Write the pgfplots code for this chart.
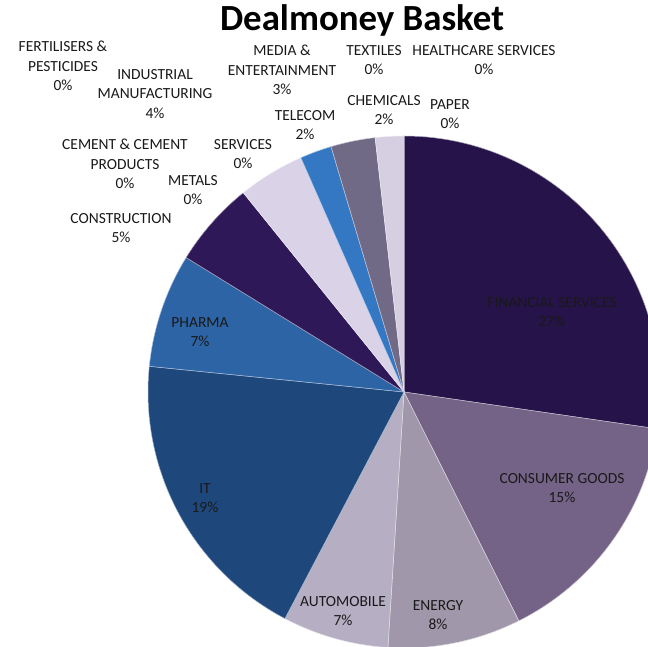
\documentclass[border=0pt]{standalone}
\usepackage{pgfplots}
\pgfplotsset{compat=1.18}
\usepackage{fontspec}
\setmainfont{Carlito}

% slice colours
\definecolor{cFin}{RGB}{38,19,74}
\definecolor{cCons}{RGB}{117,99,135}
\definecolor{cEnergy}{RGB}{160,151,170}
\definecolor{cAuto}{RGB}{182,175,196}
\definecolor{cIT}{RGB}{30,72,124}
\definecolor{cPharma}{RGB}{45,100,165}
\definecolor{cConstr}{RGB}{47,24,88}
\definecolor{cIndus}{RGB}{218,211,232}
\definecolor{cTele}{RGB}{52,120,196}
\definecolor{cMedia}{RGB}{112,106,134}
\definecolor{cChem}{RGB}{214,206,225}

% pie centre and radius (axis units = pixels)
\def\cx{404}
\def\cy{255}
\def\R{256}

% \slice{colour}{percent before}{percent of slice}
\newcommand{\slice}[3]{%
  \addplot[fill=#1, draw=white!60!#1, line width=0.5pt, samples=60,
    domain={90-3.6*(#2)}:{90-3.6*(#2+#3)}, variable=\t]
    ({\cx+\R*cos(\t)},{\cy+\R*sin(\t)}) -- (\cx,\cy) -- cycle;
}

\tikzset{lbl/.style={font=\fontsize{15.5}{19.5}\selectfont, align=center, text=black!90, inner sep=0pt}}

\begin{document}
\begin{tikzpicture}
\begin{axis}[
  width=648bp, height=647bp, scale only axis,
  xmin=0, xmax=648, ymin=0, ymax=647,
  hide axis, clip=true,
]
% shares in percent, clockwise from 12 o'clock
\slice{cFin}{0}{27.3}
\slice{cCons}{27.3}{15.3}
\slice{cEnergy}{42.6}{8.4}
\slice{cAuto}{51.0}{6.7}
\slice{cIT}{57.7}{18.9}
\slice{cPharma}{76.6}{7.2}
\slice{cConstr}{83.8}{5.4}
\slice{cIndus}{89.2}{4.2}
\slice{cTele}{93.4}{2.0}
\slice{cMedia}{95.4}{2.8}
\slice{cChem}{98.2}{1.8}

\node[font=\fontsize{37}{40}\selectfont\bfseries] at (362,627) {Dealmoney Basket};

\node[lbl] at (63,581) {FERTILISERS \&\\PESTICIDES\\0\%};
\node[lbl] at (155,553) {INDUSTRIAL\\MANUFACTURING\\4\%};
\node[lbl] at (282,577) {MEDIA \&\\ENTERTAINMENT\\3\%};
\node[lbl] at (374,587) {TEXTILES\\0\%};
\node[lbl] at (484,587) {HEALTHCARE SERVICES\\0\%};
\node[lbl] at (384,537) {CHEMICALS\\2\%};
\node[lbl] at (450,533) {PAPER\\0\%};
\node[lbl] at (305,522) {TELECOM\\2\%};
\node[lbl] at (125,483) {CEMENT \& CEMENT\\PRODUCTS\\0\%};
\node[lbl] at (243,493) {SERVICES\\0\%};
\node[lbl] at (193,457) {METALS\\0\%};
\node[lbl] at (121,419) {CONSTRUCTION\\5\%};
\node[lbl] at (200,315) {PHARMA\\7\%};
\node[lbl] at (552,335) {FINANCIAL SERVICES\\27\%};
\node[lbl] at (562,159) {CONSUMER GOODS\\15\%};
\node[lbl] at (205,149) {IT\\19\%};
\node[lbl] at (343,36) {AUTOMOBILE\\7\%};
\node[lbl] at (438,32) {ENERGY\\8\%};

\coordinate (bl) at (rel axis cs:0,0);
\coordinate (tr) at (rel axis cs:1,1);
\end{axis}
\pgfresetboundingbox
\path (bl) rectangle (tr);
\end{tikzpicture}
\end{document}
